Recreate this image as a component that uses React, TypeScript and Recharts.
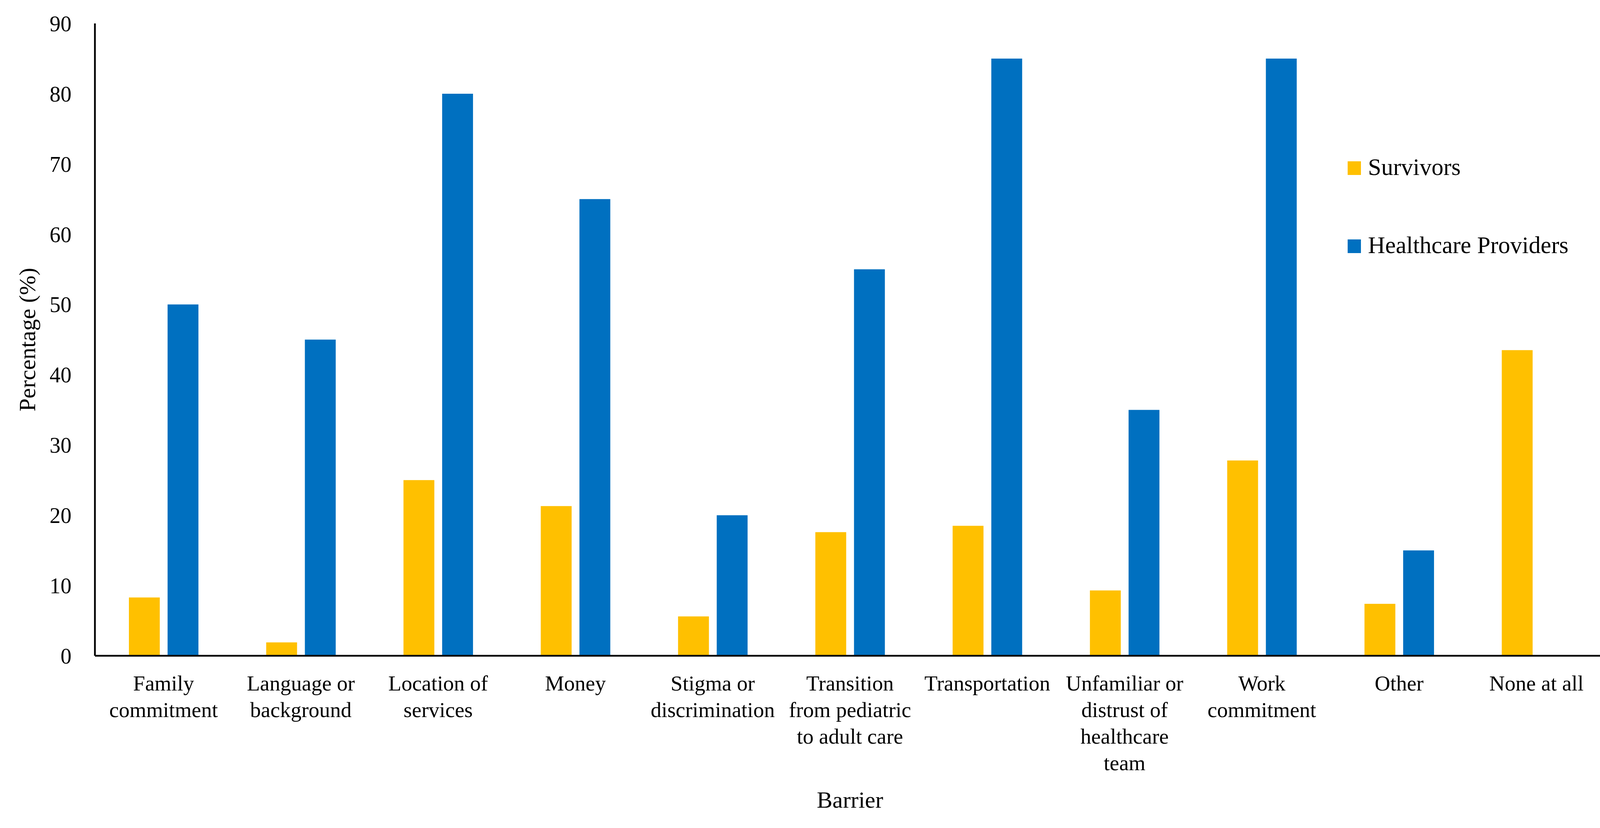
import { BarChart, Bar, XAxis, YAxis, Legend } from 'recharts';

const categories = [
  'Family commitment',
  'Language or background',
  'Location of services',
  'Money',
  'Stigma or discrimination',
  'Transition from pediatric to adult care',
  'Transportation',
  'Unfamiliar or distrust of healthcare team',
  'Work commitment',
  'Other',
  'None at all',
];

// line breaks as they appear under the axis
const tickLines = [
  ['Family', 'commitment'],
  ['Language or', 'background'],
  ['Location of', 'services'],
  ['Money'],
  ['Stigma or', 'discrimination'],
  ['Transition', 'from pediatric', 'to adult care'],
  ['Transportation'],
  ['Unfamiliar or', 'distrust of', 'healthcare', 'team'],
  ['Work', 'commitment'],
  ['Other'],
  ['None at all'],
];

const seriesNames = ['Survivors', 'Healthcare Providers'];
const survivors = [8.3, 1.9, 25.0, 21.3, 5.6, 17.6, 18.5, 9.3, 27.8, 7.4, 43.5];
const providers = [50, 45, 80, 65, 20, 55, 85, 35, 85, 15, null];

const yTicks = [0, 10, 20, 30, 40, 50, 60, 70, 80, 90];

const data = categories.map((barrier, i) => ({
  barrier,
  survivors: survivors[i],
  providers: providers[i],
}));

const FONT = '"Liberation Serif", "Times New Roman", serif';

function CategoryTick({ x, y, payload }: any) {
  const idx = categories.indexOf(payload.value);
  const lines = tickLines[idx] || [payload.value];
  return (
    <text x={x} y={y + 89} textAnchor="middle" fill="#000" fontFamily={FONT} fontSize={55}>
      {lines.map((line, i) => (
        <tspan key={i} x={x} dy={i === 0 ? 0 : 68}>
          {line}
        </tspan>
      ))}
    </text>
  );
}

function LegendBox({ payload }: any) {
  const items = [...(payload || [])].sort(
    (a: any, b: any) => seriesNames.indexOf(a.value) - seriesNames.indexOf(b.value)
  );
  return (
    <svg width={660} height={400} style={{ overflow: 'visible' }}>
      {items.map((p: any, i: number) => (
        <g key={p.value}>
          <rect x={0} y={117 + i * 200} width={34} height={35} fill={p.color} />
          <text x={52} y={152 + i * 200} fontFamily={FONT} fontSize={61} fill="#000">
            {p.value}
          </text>
        </g>
      ))}
    </svg>
  );
}

export default function App() {
  return (
    <div style={{ position: 'absolute', left: 0, top: 0, background: '#fff' }}>
      <BarChart
        width={4146}
        height={2120}
        data={data}
        margin={{ top: 60, right: 37, bottom: 0, left: 0 }}
        barGap={20}
      >
        <XAxis
          dataKey="barrier"
          height={441}
          interval={0}
          tickLine={false}
          tickSize={0}
          tickMargin={0}
          axisLine={{ stroke: '#000', strokeWidth: 4.5 }}
          tick={<CategoryTick />}
          label={{
            content: ({ viewBox }: any) => (
              <text
                x={viewBox.x + viewBox.width / 2}
                y={viewBox.y + 389}
                textAnchor="middle"
                fontFamily={FONT}
                fontSize={60}
                fill="#000"
              >
                Barrier
              </text>
            ),
          }}
        />
        <YAxis
          width={243}
          domain={[0, 90]}
          ticks={yTicks}
          interval={0}
          tickLine={false}
          tickSize={0}
          tickMargin={60}
          axisLine={{ stroke: '#000', strokeWidth: 4.5 }}
          tick={{ fill: '#000', fontFamily: FONT, fontSize: 56 }}
          label={{
            content: ({ viewBox }: any) => {
              const cy = viewBox.y + viewBox.height / 2;
              return (
                <text
                  x={90}
                  y={cy}
                  transform={`rotate(-90 90 ${cy})`}
                  textAnchor="middle"
                  fontFamily={FONT}
                  fontSize={60}
                  fill="#000"
                >
                  Percentage (%)
                </text>
              );
            },
          }}
        />
        <Legend
          layout="vertical"
          align="center"
          verticalAlign="middle"
          wrapperStyle={{ left: 3450, top: 296, width: 660, height: 400 }}
          content={<LegendBox />}
        />
        <Bar dataKey="survivors" name={seriesNames[0]} fill="#FFC000" barSize={79} isAnimationActive={false} />
        <Bar dataKey="providers" name={seriesNames[1]} fill="#0070C0" barSize={79} isAnimationActive={false} />
      </BarChart>
    </div>
  );
}
